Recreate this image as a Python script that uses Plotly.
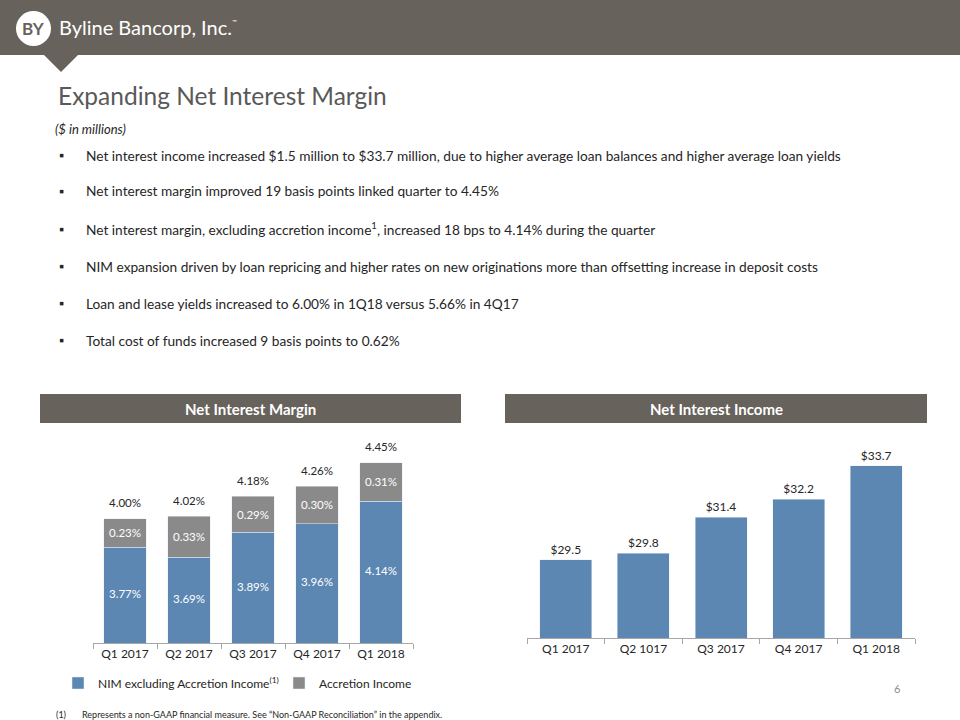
import plotly.graph_objects as go

# ---------------- data ----------------
nim_quarters = ["Q1 2017", "Q2 2017", "Q3 2017", "Q4 2017", "Q1 2018"]
nim_ex_accretion = [3.77, 3.69, 3.89, 3.96, 4.14]
accretion_income = [0.23, 0.33, 0.29, 0.30, 0.31]
nim_total = [4.00, 4.02, 4.18, 4.26, 4.45]

nii_quarters = ["Q1 2017", "Q2 1017", "Q3 2017", "Q4 2017", "Q1 2018"]
net_interest_income = [29.5, 29.8, 31.4, 32.2, 33.7]

bullets = [
    "Net interest income increased $1.5 million to $33.7 million, due to higher average loan balances and higher average loan yields",
    "Net interest margin improved 19 basis points linked quarter to 4.45%",
    "Net interest margin, excluding accretion income<sup>1</sup>, increased 18 bps to 4.14% during the quarter",
    "NIM expansion driven by loan repricing and higher rates on new originations more than offsetting increase in deposit costs",
    "Loan and lease yields increased to 6.00% in 1Q18 versus 5.66% in 4Q17",
    "Total cost of funds increased 9 basis points to 0.62%",
]

# ---------------- styling ----------------
W, H = 960, 720
FONT = "Lato"
BLUE = "#5b87b2"
GRAY = "#8a8a8a"
BAND = "#67625b"
NIM_AXMIN, NIM_AXMAX = 3.0, 4.6
NII_AXMIN, NII_AXMAX = 26.0, 34.5


def px(x):
    return x / W


def py(y):
    return 1 - y / H


fig = go.Figure()

# Left chart: stacked bars
fig.add_trace(go.Bar(
    x=nim_quarters, y=nim_ex_accretion, name="NIM excluding Accretion Income<sup>(1)</sup>",
    marker_color=BLUE, xaxis="x", yaxis="y", textposition="none", hoverinfo="skip",
    legend="legend",
))
fig.add_trace(go.Bar(
    x=nim_quarters, y=accretion_income, name="Accretion Income",
    marker_color=GRAY, xaxis="x", yaxis="y",
    text=[f"{v:.2f}%" for v in accretion_income], textposition="inside",
    insidetextanchor="middle", textfont=dict(color="white", size=11.5, family=FONT),
    hoverinfo="skip", legend="legend2",
))
# labels for the visible part of the blue segments
fig.add_trace(go.Scatter(
    x=nim_quarters, y=[(NIM_AXMIN + v) / 2 for v in nim_ex_accretion],
    mode="text", text=[f"{v:.2f}%" for v in nim_ex_accretion],
    textfont=dict(color="white", size=11.5, family=FONT), showlegend=False,
    xaxis="x", yaxis="y", hoverinfo="skip",
))
# total labels
fig.add_trace(go.Scatter(
    x=nim_quarters, y=nim_total, mode="markers+text", text=[f"{v:.2f}%" for v in nim_total],
    marker=dict(size=12, opacity=0),
    textposition="top center", textfont=dict(color="#262626", size=11.5, family=FONT),
    showlegend=False, xaxis="x", yaxis="y", hoverinfo="skip", cliponaxis=False,
))

# Right chart
fig.add_trace(go.Bar(
    x=nii_quarters, y=net_interest_income, marker_color=BLUE, showlegend=False,
    text=[f"${v:.1f}" for v in net_interest_income], textposition="outside",
    textfont=dict(color="#262626", size=12, family=FONT), cliponaxis=False,
    xaxis="x2", yaxis="y2", hoverinfo="skip",
))

axis_common = dict(
    showline=True, linecolor="#a6a6a6", linewidth=1, ticks="outside", ticklen=5,
    tickcolor="#a6a6a6", tickson="boundaries", showgrid=False, fixedrange=True,
    tickfont=dict(size=12, color="#262626", family=FONT),
)

legend_common = dict(orientation="h", xanchor="left", yanchor="middle",
                     font=dict(size=12, color="#262626", family=FONT), itemwidth=30,
                     bgcolor="rgba(0,0,0,0)")

fig.update_layout(
    width=W, height=H, margin=dict(l=0, r=0, t=0, b=0),
    paper_bgcolor="white", plot_bgcolor="white",
    font=dict(family=FONT, color="#262626"),
    barmode="stack", bargap=0.33,
    xaxis=dict(domain=[px(93), px(413)], anchor="y", **axis_common),
    yaxis=dict(domain=[py(643), py(444)], range=[NIM_AXMIN, NIM_AXMAX], visible=False,
               anchor="x", fixedrange=True),
    xaxis2=dict(domain=[px(527), px(915)], anchor="y2", **axis_common),
    yaxis2=dict(domain=[py(638), py(448)], range=[NII_AXMIN, NII_AXMAX], visible=False,
                anchor="x2", fixedrange=True),
    legend=dict(x=px(58), y=py(683), **legend_common),
    legend2=dict(x=px(279), y=py(683), **legend_common),
    showlegend=True,
)

shapes = [
    dict(type="rect", xref="paper", yref="paper", x0=0, x1=1, y0=py(55), y1=1,
         fillcolor=BAND, line=dict(width=0), layer="below"),
    dict(type="path", xref="paper", yref="paper",
         path=f"M {px(43)},{py(54)} L {px(79)},{py(54)} L {px(61)},{py(72)} Z",
         fillcolor=BAND, line=dict(width=0)),
    dict(type="circle", xref="paper", yref="paper", x0=px(16), x1=px(51), y0=py(46), y1=py(11),
         fillcolor="white", line=dict(width=0)),
    dict(type="rect", xref="paper", yref="paper", x0=px(40), x1=px(461), y0=py(423), y1=py(394),
         fillcolor=BAND, line=dict(width=0)),
    dict(type="rect", xref="paper", yref="paper", x0=px(505), x1=px(927), y0=py(423), y1=py(394),
         fillcolor=BAND, line=dict(width=0)),
]

annotations = []


def add_text(x, y, text, size, color="#262626", xanchor="left", family=FONT, **kw):
    annotations.append(dict(
        xref="paper", yref="paper", x=px(x), y=py(y), text=text, showarrow=False,
        xanchor=xanchor, yanchor="middle", font=dict(size=size, color=color, family=family), **kw))


add_text(33.5, 28.5, "<b>BY</b>", 17, color=BAND, xanchor="center")
add_text(57, 27, "Byline Bancorp, Inc.", 20, color="white")
add_text(230, 21, "™", 6, color="white")
add_text(56, 96, "Expanding Net Interest Margin", 24.5, color="#595959")
add_text(53, 129, "<i>($ in millions)</i>", 13, color="#262626")

bullet_y = [155, 191, 229, 266, 303, 340]
for yy, txt in zip(bullet_y, bullets):
    add_text(57, yy, "▪", 13, color="#262626")
    add_text(84, yy, txt, 13.7, color="#262626")

add_text(250, 409, "<b>Net Interest Margin</b>", 15, color="white", xanchor="center")
add_text(716, 409, "<b>Net Interest Income</b>", 15, color="white", xanchor="center")

add_text(897, 688, "6", 11, color="#8c8c8c", xanchor="center")
add_text(54, 714, "(1)", 9, color="#262626")
add_text(80, 714, "Represents a non-GAAP financial measure. See “Non-GAAP Reconciliation” in the appendix.", 9,
         color="#262626")

fig.update_layout(shapes=shapes, annotations=annotations)

fig.write_html("out.html", config={"displayModeBar": False},
               post_script="document.body.style.margin='0';")
